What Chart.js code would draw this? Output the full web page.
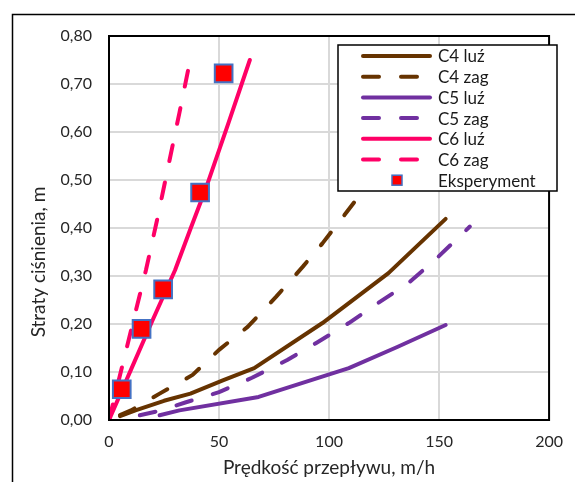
<!DOCTYPE html>
<html>
<head>
<meta charset="utf-8">
<script src="https://cdn.jsdelivr.net/npm/chart.js@4.4.0/dist/chart.umd.min.js"></script>
<style>
  html, body { margin: 0; padding: 0; background: #fff; }
  #wrap { width: 575px; height: 482px; }
</style>
</head>
<body>
<div id="wrap"><canvas id="chart" width="575" height="482"></canvas></div>
<script>
// values
const c4LuzX = [5, 12, 25, 37, 52, 66, 97, 127, 153]
const c4LuzY = [0.008, 0.02, 0.04, 0.055, 0.083, 0.108, 0.202, 0.306, 0.419]

const c4ZagX = [5, 10, 23, 38, 50, 63, 76, 88, 97, 107, 115, 130]
const c4ZagY = [0.01, 0.02, 0.055, 0.094, 0.146, 0.194, 0.257, 0.319, 0.368, 0.427, 0.475, 0.57]

const c5LuzX = [23, 32, 68, 109, 131, 153]
const c5LuzY = [0.01, 0.02, 0.048, 0.108, 0.152, 0.198]

const c5ZagX = [14, 24, 35, 50, 65, 81, 94, 109, 122, 136, 148, 164]
const c5ZagY = [0.01, 0.02, 0.037, 0.058, 0.088, 0.125, 0.16, 0.202, 0.243, 0.285, 0.333, 0.403]

const c6LuzX = [0, 10, 20, 30, 37, 44.3, 54, 64]
const c6LuzY = [0, 0.105, 0.21, 0.312, 0.398, 0.486, 0.615, 0.75]

const c6ZagX = [0, 6, 12, 16.8, 22, 27, 32, 36]
const c6ZagY = [0, 0.112, 0.224, 0.3125, 0.42, 0.53, 0.64, 0.73]

const expX = [5.8, 14.8, 24.6, 41.4, 52.1]
const expY = [0.064, 0.19, 0.272, 0.474, 0.722]

const xTicks = [0, 50, 100, 150, 200]
const yTicks = [0, 0.1, 0.2, 0.3, 0.4, 0.5, 0.6, 0.7, 0.8]

const xTitle = 'Prędkość przepływu, m/h'
const yTitle = 'Straty ciśnienia, m'

const FONT = 'Lato'
const BROWN = '#663300'
const PURPLE = '#7030A0'
const PINK = '#FF0066'
const DASH = [16, 22]

const pts = (xs, ys) => xs.map((x, i) => ({ x: x, y: ys[i] }))

const lineSet = (label, xs, ys, color, dashed) => ({
    label: label,
    data: pts(xs, ys),
    borderColor: color,
    backgroundColor: color,
    borderWidth: 4,
    borderDash: dashed ? DASH : [],
    borderCapStyle: 'round',
    borderJoinStyle: 'round',
    pointRadius: 0,
    tension: 0,
    fill: false,
    order: 2,
})

const datasets = [
    lineSet('C4 luź', c4LuzX, c4LuzY, BROWN, false),
    lineSet('C4 zag', c4ZagX, c4ZagY, BROWN, true),
    lineSet('C5 luź', c5LuzX, c5LuzY, PURPLE, false),
    lineSet('C5 zag', c5ZagX, c5ZagY, PURPLE, true),
    lineSet('C6 luź', c6LuzX, c6LuzY, PINK, false),
    lineSet('C6 zag', c6ZagX, c6ZagY, PINK, true),
    {
        label: 'Eksperyment',
        data: pts(expX, expY),
        showLine: false,
        pointStyle: 'rect',
        pointRadius: 12.5,
        pointBackgroundColor: '#FF0000',
        pointBorderColor: '#4472C4',
        pointBorderWidth: 2,
        order: 0,
    },
]

// frame, titles and the boxed legend inside the plot
const decor = {
    id: 'decor',
    beforeDraw(chart) {
        const ctx = chart.ctx
        ctx.save()
        ctx.fillStyle = '#fff'
        ctx.fillRect(0, 0, chart.width, chart.height)
        ctx.strokeStyle = '#000'
        ctx.lineWidth = 1.5
        ctx.strokeRect(12.5, 14.5, 700, 700)
        ctx.restore()
    },
    afterDatasetsDraw(chart) {
        const ctx = chart.ctx
        const a = chart.chartArea
        ctx.save()
        ctx.strokeStyle = '#000'
        ctx.lineWidth = 2
        ctx.strokeRect(a.left, a.top, a.right - a.left, a.bottom - a.top)

        // axis titles
        ctx.fillStyle = '#262626'
        ctx.font = '19px ' + FONT
        ctx.textAlign = 'center'
        ctx.textBaseline = 'middle'
        ctx.fillText(xTitle, (a.left + a.right) / 2, 468)
        ctx.translate(39, 262)
        ctx.rotate(-Math.PI / 2)
        ctx.fillText(yTitle, 0, 0)
        ctx.restore()

        // legend
        ctx.save()
        const bx = 338, by = 45, bw = 219, bh = 146
        ctx.fillStyle = '#fff'
        ctx.fillRect(bx, by, bw, bh)
        ctx.strokeStyle = '#000'
        ctx.lineWidth = 1.5
        ctx.strokeRect(bx, by, bw, bh)
        ctx.font = '17px ' + FONT
        ctx.textAlign = 'left'
        ctx.textBaseline = 'middle'
        chart.data.datasets.forEach((ds, i) => {
            const y = 56 + i * 20.7
            if (ds.showLine === false) {
                ctx.fillStyle = ds.pointBackgroundColor
                ctx.strokeStyle = ds.pointBorderColor
                ctx.lineWidth = 1.5
                ctx.fillRect(392, y - 5, 10, 10)
                ctx.strokeRect(392, y - 5, 10, 10)
            } else {
                ctx.strokeStyle = ds.borderColor
                ctx.lineWidth = 4
                ctx.lineCap = 'round'
                ctx.setLineDash(ds.borderDash)
                ctx.beginPath()
                ctx.moveTo(363, y)
                ctx.lineTo(430, y)
                ctx.stroke()
                ctx.setLineDash([])
            }
            ctx.fillStyle = '#1a1a1a'
            ctx.fillText(ds.label, 438, y + 1)
        })
        ctx.restore()
    },
}

const chartCtx = document.getElementById('chart').getContext('2d')

new Chart(chartCtx, {
    type: 'line',
    data: { datasets: datasets },
    options: {
        responsive: false,
        animation: false,
        layout: {
            padding: { left: 12, right: 19, top: 36, bottom: 0 },
        },
        plugins: {
            legend: { display: false },
            tooltip: { enabled: false },
        },
        scales: {
            x: {
                type: 'linear',
                min: xTicks[0],
                max: xTicks[xTicks.length - 1],
                afterBuildTicks: (scale) => { scale.ticks = xTicks.map(v => ({ value: v })) },
                afterFit: (scale) => { scale.height = 62 },
                ticks: {
                    padding: 12,
                    color: '#262626',
                    font: { family: FONT, size: 16 },
                    maxRotation: 0,
                },
                grid: { color: '#d9d9d9', lineWidth: 2, drawTicks: false },
                border: { display: false },
            },
            y: {
                min: yTicks[0],
                max: yTicks[yTicks.length - 1],
                afterBuildTicks: (scale) => { scale.ticks = yTicks.map(v => ({ value: v })) },
                afterFit: (scale) => { scale.width = 97 },
                ticks: {
                    padding: 17,
                    color: '#262626',
                    font: { family: FONT, size: 16 },
                    callback: (v) => v.toFixed(2).replace('.', ','),
                },
                grid: { color: '#d9d9d9', lineWidth: 2, drawTicks: false },
                border: { display: false },
            },
        },
    },
    plugins: [decor],
})
</script>
</body>
</html>
